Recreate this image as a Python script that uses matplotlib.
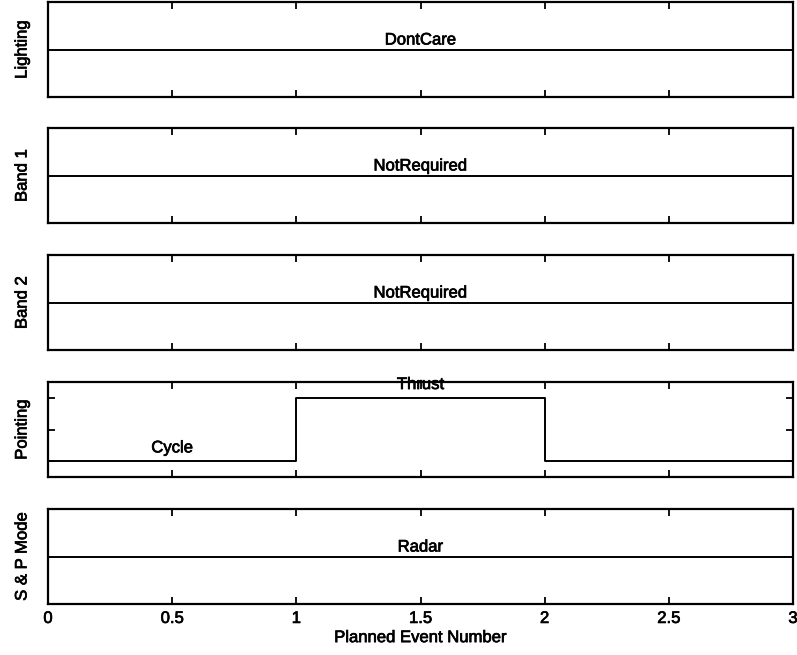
import matplotlib
matplotlib.use("Agg")
import matplotlib.pyplot as plt
import matplotlib.patheffects as pe

plt.rcParams["font.family"] = ["Liberation Sans", "DejaVu Sans"]
plt.rcParams["font.size"] = 12

# Planned event boundaries (x) and the state level held over each interval
event_edges = [0, 1, 2, 3]

lighting_levels = [1, 1, 1]
band1_levels = [1, 1, 1]
band2_levels = [1, 1, 1]
pointing_levels = [1, 2, 1]
sp_mode_levels = [1, 1, 1]

# State names written next to the trace: (x position, level, name)
lighting_names = [(1.5, 1, "DontCare")]
band1_names = [(1.5, 1, "NotRequired")]
band2_names = [(1.5, 1, "NotRequired")]
pointing_names = [(0.5, 1, "Cycle"), (1.5, 2, "Thrust")]
sp_mode_names = [(1.5, 1, "Radar")]

panel_titles = ["Lighting", "Band 1", "Band 2", "Pointing", "S & P Mode"]
x_ticks = [0, 0.5, 1, 1.5, 2, 2.5, 3]
x_tick_labels = ["0", "0.5", "1", "1.5", "2", "2.5", "3"]

panels = [
    (lighting_levels, lighting_names),
    (band1_levels, band1_names),
    (band2_levels, band2_names),
    (pointing_levels, pointing_names),
    (sp_mode_levels, sp_mode_names),
]

# slightly heavier glyphs, like a print-quality Helvetica
heavy = [pe.withStroke(linewidth=0.5, foreground="black")]

W, H = 797, 655
fig = plt.figure(figsize=(W / 100, H / 100), dpi=100)

left, right = 48 / W, 793 / W
tops_px = [2, 128, 255, 382, 509]
panel_h_px = 95

axes = []
for i, ((levels, names), title) in enumerate(zip(panels, panel_titles)):
    top = tops_px[i]
    ax = fig.add_axes([left, 1 - (top + panel_h_px) / H, right - left, panel_h_px / H])
    axes.append(ax)

    ys = list(levels) + [levels[-1]]
    ax.step(event_edges, ys, where="post", color="black", lw=1.4)

    lo, hi = min(levels), max(levels)
    if hi > lo:
        span = hi - lo
        ax.set_ylim(lo - 0.25 * span, hi + 0.25 * span)
        ax.set_yticks([lo, (lo + hi) / 2, hi])
        offset = 0.21 * span
    else:
        ax.set_ylim(lo - 1, lo + 1)
        ax.set_yticks([])
        offset = 0.2
    ax.set_yticklabels([])

    for x, lvl, name in names:
        ax.text(x, lvl + offset, name, ha="center", va="center", fontsize=12,
                path_effects=heavy, zorder=5)

    ax.set_xlim(0, 3)
    ax.set_xticks(x_ticks)
    if i == len(panels) - 1:
        ax.set_xticklabels(x_tick_labels)
        for t in ax.get_xticklabels():
            t.set_path_effects(heavy)
        ax.set_xlabel("Planned Event Number", fontsize=12, labelpad=3,
                      path_effects=heavy)
    else:
        ax.set_xticklabels([])

    ax.tick_params(axis="both", direction="in", length=5, width=1.3,
                   top=True, right=True, pad=5, labelsize=12)
    for s in ax.spines.values():
        s.set_linewidth(1.6)

    ax.set_ylabel(title, fontsize=12, va="center", path_effects=heavy)
    ax.yaxis.set_label_coords((22 - 48) / (793 - 48), 0.5)

fig.savefig("out.png", dpi=100)
